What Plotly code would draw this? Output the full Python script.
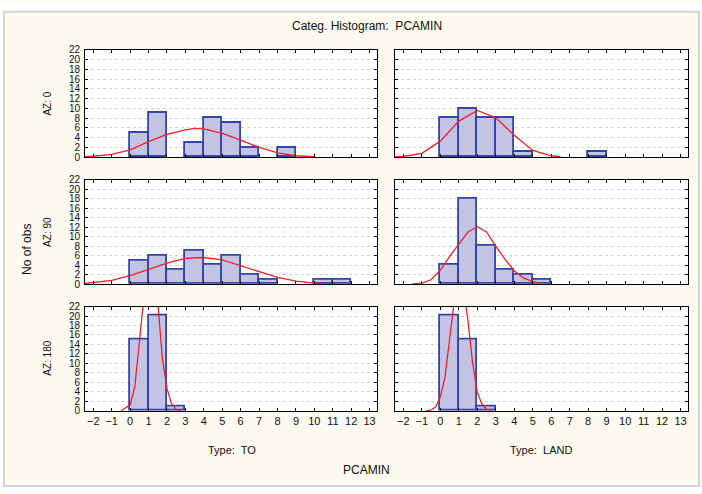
import plotly.graph_objects as go
from plotly.subplots import make_subplots

# ---------------- data ----------------
bin_left = [0, 1, 2, 3, 4, 5, 6, 7, 8, 9, 10, 11]

# counts per unit bin [k, k+1)
counts_az0_to = [5, 9, 0, 3, 8, 7, 2, 0, 2, 0, 0, 0]
counts_az0_land = [8, 10, 8, 8, 1, 0, 0, 0, 1, 0, 0, 0]
counts_az90_to = [5, 6, 3, 7, 4, 6, 2, 1, 0, 0, 1, 1]
counts_az90_land = [4, 18, 8, 3, 2, 1, 0, 0, 0, 0, 0, 0]
counts_az180_to = [15, 20, 1, 0, 0, 0, 0, 0, 0, 0, 0, 0]
counts_az180_land = [20, 15, 1, 0, 0, 0, 0, 0, 0, 0, 0, 0]

# fitted normal curves
curve_az0_to_x = [-2.5, -2, -1, 0, 1, 2, 3, 3.5, 4, 5, 6, 7, 8, 9, 10]
curve_az0_to_y = [0.1, 0.2, 0.6, 1.5, 3.2, 4.7, 5.6, 5.9, 5.8, 4.9, 3.5, 2.0, 0.9, 0.3, 0.1]

curve_az0_land_x = [-2.5, -2, -1, 0, 1, 2, 3, 4, 5, 6, 6.5]
curve_az0_land_y = [0.05, 0.15, 0.8, 3.3, 7.4, 9.6, 8.1, 4.5, 1.4, 0.3, 0.1]

curve_az90_to_x = [-2.5, -2, -1, 0, 1, 2, 3, 4, 5, 6, 7, 8, 9, 10, 11]
curve_az90_to_y = [0.1, 0.3, 0.8, 1.8, 3.1, 4.4, 5.4, 5.6, 5.1, 3.9, 2.6, 1.4, 0.6, 0.2, 0.05]

curve_az90_land_x = [-1.5, -1, -0.5, 0, 0.5, 1, 1.5, 2, 2.5, 3, 3.5, 4, 4.5, 5, 5.5]
curve_az90_land_y = [0.05, 0.2, 0.9, 2.9, 5.8, 8.3, 11.0, 12.1, 11.0, 8.0, 5.2, 2.8, 1.3, 0.5, 0.15]

curve_az180_to_x = [-0.5, 0, 0.25, 0.5, 0.75, 1, 1.25, 1.5, 1.75, 2, 2.25, 2.5, 2.75]
curve_az180_to_y = [0, 1.3, 5, 14, 24, 30, 30, 23, 11, 4.7, 1.5, 0.3, 0]

curve_az180_land_x = [-0.75, -0.5, -0.25, 0, 0.25, 0.5, 0.75, 1, 1.25, 1.5, 1.75, 2, 2.25, 2.5, 2.75]
curve_az180_land_y = [0, 0.2, 0.8, 2.9, 7, 15.5, 23, 28, 26, 19, 10, 4, 1.4, 0.4, 0.1]

x_ticks = list(range(-2, 14))
y_ticks = list(range(0, 24, 2))

row_labels = ["AZ: 0", "AZ: 90", "AZ: 180"]
col_labels = ["Type:  TO", "Type:  LAND"]
title_text = "Categ. Histogram:  PCAMIN"
x_title = "PCAMIN"
y_title = "No of obs"

panels = [
    (1, 1, counts_az0_to, curve_az0_to_x, curve_az0_to_y),
    (1, 2, counts_az0_land, curve_az0_land_x, curve_az0_land_y),
    (2, 1, counts_az90_to, curve_az90_to_x, curve_az90_to_y),
    (2, 2, counts_az90_land, curve_az90_land_x, curve_az90_land_y),
    (3, 1, counts_az180_to, curve_az180_to_x, curve_az180_to_y),
    (3, 2, counts_az180_land, curve_az180_land_x, curve_az180_land_y),
]

# ---------------- figure ----------------
W, H = 702, 494
FONT = "Liberation Sans, Arial, sans-serif"
BAR_FILL = "#c3c3e4"
BAR_LINE = "#3444a8"
CURVE = "#f0202a"
CREAM = "#fcfaf0"

fig = make_subplots(rows=3, cols=2)

for r, c, cnt, cx, cy in panels:
    bx = [b for b, v in zip(bin_left, cnt) if v > 0]
    by = [v for v in cnt if v > 0]
    fig.add_trace(go.Bar(x=bx, y=by, width=1, offset=0,
                         marker=dict(color=BAR_FILL, line=dict(color=BAR_LINE, width=1.8)),
                         showlegend=False, hoverinfo="skip"), row=r, col=c)
    fig.add_trace(go.Scatter(x=cx, y=cy, mode="lines",
                             line=dict(color=CURVE, width=1.3),
                             showlegend=False, hoverinfo="skip"), row=r, col=c)

col_px = [(85, 377), (395, 688)]
row_px = [(45, 155), (178, 285), (308, 415)]

for r in range(3):
    for c in range(2):
        x0, x1 = col_px[c]
        y0, y1 = row_px[r]
        fig.update_xaxes(domain=[x0 / W, x1 / W], range=[-2.45, 13.4],
                         tickmode="array", tickvals=x_ticks,
                         showticklabels=(r == 2), ticks="inside", ticklen=3,
                         tickcolor="black", showline=True, linecolor="black",
                         linewidth=1, mirror="allticks", showgrid=False,
                         zeroline=False, tickfont=dict(family=FONT, size=11, color="#111"),
                         row=r + 1, col=c + 1)
        fig.update_yaxes(domain=[1 - y1 / H, 1 - y0 / H], range=[0, 22],
                         tickmode="array", tickvals=y_ticks,
                         showticklabels=(c == 0), ticks="inside", ticklen=3,
                         tickcolor="black", showline=True, linecolor="black",
                         linewidth=1, mirror="allticks", showgrid=True,
                         gridcolor="#d2d2d2", griddash="dot", gridwidth=1,
                         zeroline=False, ticklabelstandoff=2,
                         tickfont=dict(family=FONT, size=10, color="#111"),
                         row=r + 1, col=c + 1)

def px(x, y):
    return x / W, 1 - y / H

def note(x, y, text, size, angle=0):
    ax, ay = px(x, y)
    return dict(x=ax, y=ay, text=text, textangle=angle, showarrow=False,
                xref="paper", yref="paper", xanchor="center", yanchor="middle",
                font=dict(family=FONT, size=size, color="#111"))

annotations = [note(367, 21, title_text, 12), note(27, 250, y_title, 12, -90)]
for i, lab in enumerate(row_labels):
    cy = (row_px[i][0] + row_px[i][1]) / 2
    annotations.append(note(48, cy, lab, 10, -90))
for i, lab in enumerate(col_labels):
    annotations.append(note([232, 541][i], 455, lab, 11))
annotations.append(note(367, 476, x_title, 12))

fx0, fy1 = px(4, 6)
fx1, fy0 = px(699, 492)
fig.update_layout(
    width=W, height=H,
    margin=dict(l=0, r=0, t=0, b=0),
    paper_bgcolor=CREAM,
    plot_bgcolor="white",
    bargap=0,
    annotations=annotations,
    shapes=[
        # white surround outside the frame
        dict(type="rect", xref="paper", yref="paper", x0=0, x1=1, y0=0, y1=1,
             line=dict(color="white", width=9), layer="above"),
        # frame border
        dict(type="rect", xref="paper", yref="paper", x0=fx0, x1=fx1, y0=fy0, y1=fy1,
             line=dict(color="#d4d4d4", width=2), layer="above"),
    ],
)

fig.write_html("out.html",
               config={"displayModeBar": False},
               post_script="document.body.style.margin='0px';"
                           "document.documentElement.style.overflow='hidden';")
